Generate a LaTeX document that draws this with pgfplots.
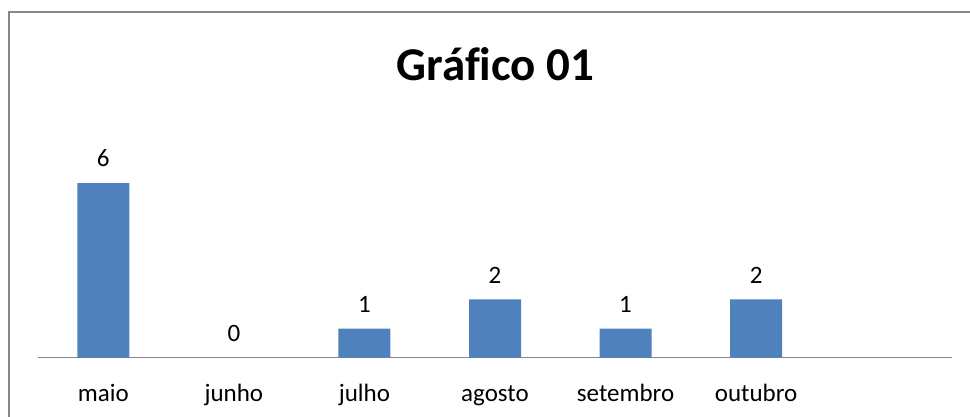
\documentclass[border=0pt]{standalone}
\usepackage{pgfplots}
\pgfplotsset{compat=1.18}
\usepackage{fontspec}
\setmainfont{Carlito}[Ligatures=NoCommon]
\definecolor{barblue}{HTML}{4F81BD}
\definecolor{axgray}{HTML}{868686}
\definecolor{framegray}{HTML}{868686}
\begin{document}
\begin{tikzpicture}[x=1pt,y=1pt]
\useasboundingbox (0,0) rectangle (970,417);
\draw[framegray, line width=2pt] (8.5,0) -- (8.5,404.5) -- (970,404.5);
\node[font=\fontsize{47}{50}\selectfont\bfseries] at (495.5,353) {Gráfico 01};
\begin{axis}[
  at={(38pt,59.3pt)}, anchor=south west,
  scale only axis, width=914pt, height=203.8pt,
  xmin=-0.5, xmax=6.5, ymin=0, ymax=7,
  axis x line*=bottom, axis y line=none,
  x axis line style={axgray, line width=1.5pt, -},
  xtick={0,1,2,3,4,5},
  xticklabels={maio,junho,julho,agosto,setembro,outubro},
  major tick length=0pt,
  ytick=\empty,
  /pgf/number format/assume math mode=true,
  xticklabel style={font=\fontsize{25}{28}\selectfont, anchor=base, yshift=-44pt, inner sep=0pt},
  ybar, bar width=52pt,
  nodes near coords,
  nodes near coords style={font=\fontsize{25}{28}\selectfont, anchor=south, inner sep=0pt, yshift=16pt, black},
  clip=false,
]
\addplot[fill=barblue, draw=none] coordinates {(0,6) (1,0) (2,1) (3,2) (4,1) (5,2)};
\end{axis}
\end{tikzpicture}
\end{document}
